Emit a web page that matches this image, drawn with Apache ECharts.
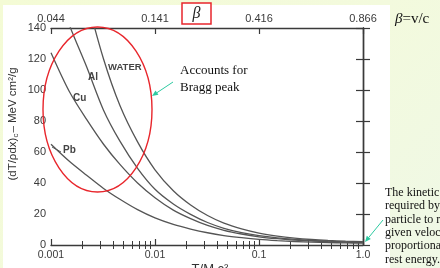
<!DOCTYPE html>
<html><head><meta charset="utf-8">
<script src="https://cdn.jsdelivr.net/npm/echarts@6/dist/echarts.min.js"></script>
<style>
html,body{margin:0;padding:0;width:440px;height:268px;overflow:hidden;background:linear-gradient(135deg,#f4fbd5 0%,#f3fadd 55%,#eff8e6 100%);}
#panel{position:absolute;left:3px;top:5px;width:387px;height:263px;background:#fff;}
#chart{position:absolute;left:0;top:0;width:440px;height:268px;}
</style></head><body><div id="panel"></div><div id="chart"></div>
<script>
// T / Mc^2 sample points
const tOverMc2 = [0.001, 0.0015, 0.0022, 0.0032, 0.0046, 0.0068, 0.01, 0.015, 0.022, 0.032, 0.046, 0.068, 0.1, 0.15, 0.22, 0.32, 0.46, 0.68, 1.0];
// (dT/rho dx)_c in MeV cm^2/g
const water = [270, 207, 160, 120, 90, 66.5, 48.5, 35, 25.8, 19, 14.1, 10.4, 7.7, 5.75, 4.45, 3.55, 2.95, 2.5, 2.2];
const aluminium = [176, 142, 115, 87, 67, 49.5, 36, 26.5, 19.8, 14.5, 10.8, 8.0, 6.0, 4.55, 3.6, 2.9, 2.45, 2.05, 1.8];
const copper = [124, 99, 81, 65, 52, 40, 30.5, 22.5, 17, 12.6, 9.5, 7.1, 5.3, 4.05, 3.2, 2.6, 2.2, 1.85, 1.62];
const lead = [65, 54, 45, 36.5, 29.5, 22.8, 17.5, 13.3, 10.3, 7.9, 6.1, 4.7, 3.6, 2.8, 2.25, 1.85, 1.55, 1.35, 1.2];
const seriesNames = ['WATER', 'Al', 'Cu', 'Pb'];
// tick labels
const bottomTickLabels = ['0.001', '0.01', '0.1', '1.0'];
const betaTickLabels = ['0.044', '0.141', '0.416', '0.866'];
const yMin = 0, yMax = 140, yStep = 20;

const decadeIndex = v => Math.round(Math.log10(v)) + 3;
const minorLog = [];
for (let d = -3; d < 0; d++) for (let k = 2; k <= 9; k++) minorLog.push(Math.log10(k * Math.pow(10, d)));

const axisColor = '#3a3a3a';
const labelFont = {fontFamily: 'Liberation Sans', color: '#3a3a3a'};

function arrow(x1, y1, x2, y2, color) {
  const a = Math.atan2(y2 - y1, x2 - x1), L = 6, W = 2.6;
  const bx = x2 - L * Math.cos(a), by = y2 - L * Math.sin(a);
  const px = -Math.sin(a) * W, py = Math.cos(a) * W;
  return [
    {type: 'line', z: 50, shape: {x1: x1, y1: y1, x2: bx, y2: by}, style: {stroke: color, lineWidth: 1}},
    {type: 'polygon', z: 50, shape: {points: [[x2, y2], [bx + px, by + py], [bx - px, by - py]]}, style: {fill: color}}
  ];
}

const serif = 'Liberation Serif';
const graphics = [
  {type: 'ellipse', z: 40, shape: {cx: 97.5, cy: 109.5, rx: 54.5, ry: 82.5}, style: {fill: 'none', stroke: '#e8262c', lineWidth: 1.4}},
  {type: 'rect', z: 40, shape: {x: 182, y: 3, width: 29, height: 21}, style: {fill: '#fff', stroke: '#e8262c', lineWidth: 1.5}},
  {type: 'text', z: 41, x: 196.5, y: 14, style: {text: 'β', font: 'italic 16px ' + serif, fill: '#222', align: 'center', verticalAlign: 'middle'}},
  {type: 'text', z: 41, x: 395, y: 19, style: {text: '{i|β}=v/c', font: '15px ' + serif, fill: '#111', align: 'left', verticalAlign: 'middle', rich: {i: {fontStyle: 'italic', fontSize: 15, fontFamily: serif}}}},
  {type: 'text', z: 41, x: 180, y: 71, style: {text: 'Accounts for', font: '13px ' + serif, fill: '#111', verticalAlign: 'middle'}},
  {type: 'text', z: 41, x: 180, y: 88, style: {text: 'Bragg peak', font: '13px ' + serif, fill: '#111', verticalAlign: 'middle'}},
  ...arrow(173, 82, 152, 96, '#2cc9a0'),
  ...arrow(383, 220, 365, 242, '#2cc9a0'),
  {type: 'text', z: 41, x: 385, y: 193, style: {text: 'The kinetic', font: '12px ' + serif, fill: '#111', verticalAlign: 'middle'}},
  {type: 'text', z: 41, x: 385, y: 206, style: {text: 'required by', font: '12px ' + serif, fill: '#111', verticalAlign: 'middle'}},
  {type: 'text', z: 41, x: 385, y: 219.5, style: {text: 'particle to reach a', font: '12px ' + serif, fill: '#111', verticalAlign: 'middle'}},
  {type: 'text', z: 41, x: 385, y: 232.5, style: {text: 'given velocity is', font: '12px ' + serif, fill: '#111', verticalAlign: 'middle'}},
  {type: 'text', z: 41, x: 385, y: 246, style: {text: 'proportional to', font: '12px ' + serif, fill: '#111', verticalAlign: 'middle'}},
  {type: 'text', z: 41, x: 385, y: 259.5, style: {text: 'rest energy.', font: '12px ' + serif, fill: '#111', verticalAlign: 'middle'}},
  {type: 'text', z: 30, x: 13, y: 124, rotation: Math.PI / 2, style: {text: '(dT/ρdx){s|c}– MeV cm²/g', font: '11.5px Liberation Sans', fill: '#333', align: 'center', verticalAlign: 'middle', rich: {s: {fontSize: 8, fontFamily: 'Liberation Sans', padding: [6, 1, 0, 0]}}}},
  {type: 'text', z: 30, x: 210, y: 269, style: {text: 'T/M c²', font: '13px Liberation Sans', fill: '#333', align: 'center', verticalAlign: 'middle'}},
  {type: 'text', z: 30, x: 108, y: 67, style: {text: seriesNames[0], font: 'bold 9.5px Liberation Sans', fill: '#444', verticalAlign: 'middle'}},
  {type: 'text', z: 30, x: 88, y: 77, style: {text: seriesNames[1], font: 'bold 10px Liberation Sans', fill: '#444', verticalAlign: 'middle'}},
  {type: 'text', z: 30, x: 73, y: 98, style: {text: seriesNames[2], font: 'bold 10px Liberation Sans', fill: '#444', verticalAlign: 'middle'}},
  {type: 'text', z: 30, x: 63, y: 150, style: {text: seriesNames[3], font: 'bold 10px Liberation Sans', fill: '#444', verticalAlign: 'middle'}},
  {type: 'line', z: 30, shape: {x1: 52, y1: 147, x2: 61, y2: 152}, style: {stroke: '#555', lineWidth: 1}}
];

const grid = {left: 51, right: 77, top: 28, bottom: 23};
const logAxisBase = {type: 'log', logBase: 10, min: 0.001, max: 1, gridIndex: 0,
  axisLine: {show: true, onZero: false, lineStyle: {color: axisColor, width: 1.4}},
  splitLine: {show: false}, minorTick: {show: false}};
const minorAxisBase = {type: 'value', min: -3, max: 0, gridIndex: 0,
  axisLine: {show: false}, splitLine: {show: false}, axisLabel: {show: false},
  axisTick: {show: true, inside: true, length: 4, customValues: minorLog, lineStyle: {color: axisColor, width: 1}}};

const option = {
  animation: false,
  backgroundColor: 'transparent',
  grid: grid,
  xAxis: [
    Object.assign({}, logAxisBase, {position: 'bottom',
      axisTick: {show: true, inside: true, length: 6, lineStyle: {color: axisColor, width: 1.2}},
      axisLabel: Object.assign({fontSize: 10.5, margin: 5, formatter: v => bottomTickLabels[decadeIndex(v)]}, labelFont)}),
    Object.assign({}, minorAxisBase, {position: 'bottom'}),
    Object.assign({}, logAxisBase, {position: 'top',
      axisTick: {show: true, inside: true, length: 6, lineStyle: {color: axisColor, width: 1.2}},
      axisLabel: Object.assign({fontSize: 11, margin: 4, formatter: v => betaTickLabels[decadeIndex(v)]}, labelFont)}),
    Object.assign({}, minorAxisBase, {position: 'top'})
  ],
  yAxis: [
    {type: 'value', position: 'left', min: yMin, max: yMax, interval: yStep,
      axisLine: {show: true, lineStyle: {color: axisColor, width: 1.4}},
      axisTick: {show: true, inside: true, length: 7, lineStyle: {color: axisColor, width: 1.2}},
      splitLine: {show: false},
      axisLabel: Object.assign({fontSize: 11, margin: 5}, labelFont)},
    {type: 'value', position: 'right', min: yMin, max: yMax, interval: yStep,
      axisLine: {show: true, lineStyle: {color: axisColor, width: 1.4}},
      axisTick: {show: true, inside: true, length: 7, lineStyle: {color: axisColor, width: 1.2}},
      splitLine: {show: false}, axisLabel: {show: false}}
  ],
  series: [water, aluminium, copper, lead].map((vals, i) => ({
    name: seriesNames[i], type: 'line', xAxisIndex: 0, yAxisIndex: 0,
    data: tOverMc2.map((x, j) => [x, vals[j]]),
    showSymbol: false, smooth: 0.3, clip: true,
    lineStyle: {color: '#555', width: 1.3}
  })),
  graphic: graphics
};
const chart = echarts.init(document.getElementById('chart'), null, {renderer: 'canvas'});
chart.setOption(option);
</script>
</body></html>
